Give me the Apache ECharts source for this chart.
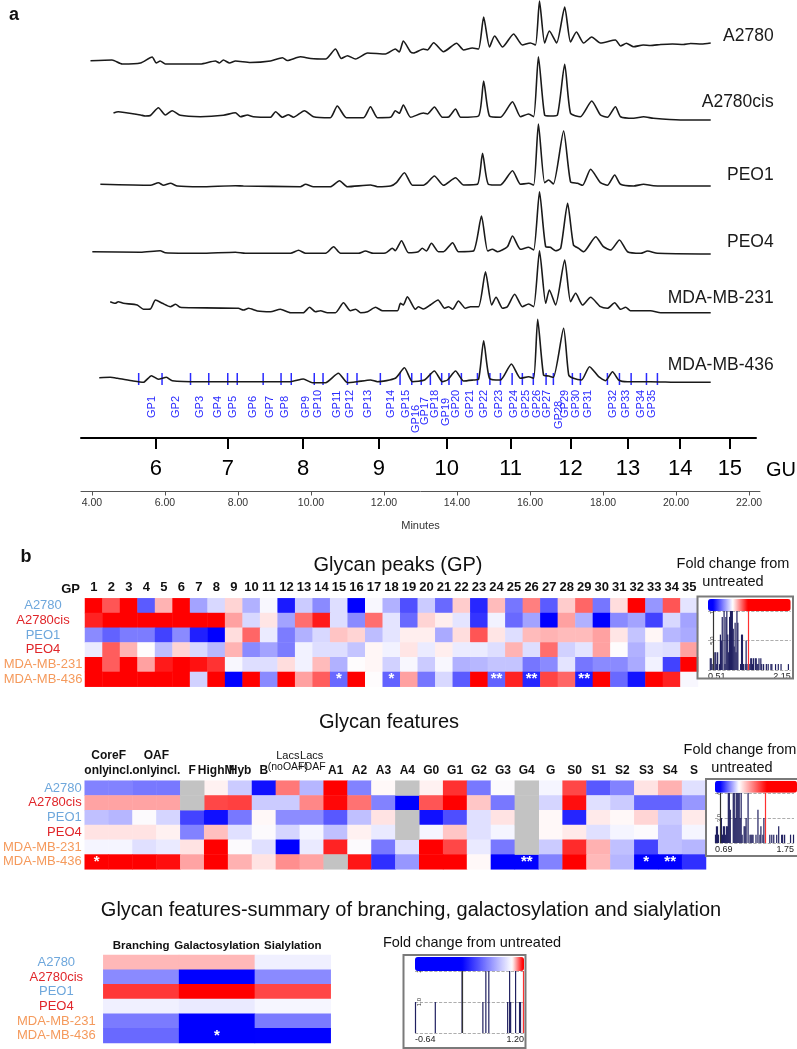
<!DOCTYPE html>
<html>
<head>
<meta charset="utf-8">
<script src="https://cdn.jsdelivr.net/npm/echarts/dist/echarts.min.js"></script>
<style>
  html, body { margin: 0; padding: 0; background: #fff; }
  #chart { width: 797px; height: 1049px; }
</style>
</head>
<body>
<div id="chart"></div>
<script>
// ---------- data ----------
const cellLines = ['A2780', 'A2780cis', 'PEO1', 'PEO4', 'MDA-MB-231', 'MDA-MB-436'];

// chromatograms: [retention time (min), signal]
const trace_A2780 = [[3.96,4.3],[4.55,5],[4.83,1],[5.33,2],[5.65,8],[5.76,2],[5.87,4],[6.01,1],[6.97,1],[7.38,4],[7.49,2],[7.60,5],[7.77,2],[7.93,4],[8.34,2.5],[8.89,4],[9.22,7.3],[9.35,4.5],[9.71,8.3],[9.99,6.5],[10.40,6],[10.67,16],[10.83,6.5],[11.00,9.3],[11.22,6],[11.55,12],[12.04,11],[12.31,16],[12.42,13],[12.53,24],[12.73,13],[12.81,12],[13.08,16],[13.19,15],[13.36,22.3],[13.63,13.3],[13.99,21.7],[14.18,15],[14.42,17],[14.59,16],[14.73,48],[14.89,18],[15.03,29],[15.25,18],[15.55,31],[15.79,20],[16.01,22],[16.15,20],[16.26,64],[16.40,22],[16.53,34],[16.73,22],[16.95,58],[17.11,23],[17.27,33],[17.47,22],[17.69,28],[17.93,22],[18.34,25],[18.48,19],[18.64,21.7],[18.84,18.3],[19.1,20],[19.3,19.5],[19.58,20.5],[19.9,21],[20.2,20.5],[20.4,21.5],[20.7,21],[20.95,22]];
const trace_A2780cis = [[4.59,7],[4.72,8.3],[5.33,5],[5.46,4],[5.60,4.5],[5.82,12.3],[6.01,5],[6.20,9.3],[6.42,4.7],[6.97,3.3],[7.60,4.7],[7.93,7.3],[8.07,3.3],[8.26,5],[8.42,3.3],[8.89,2.7],[9.03,8.3],[9.22,2.7],[9.38,5.3],[9.52,2.7],[9.82,9.3],[10.07,3.3],[10.53,2.3],[10.72,14],[10.97,2.3],[11.44,2.3],[11.63,13.3],[11.82,2.3],[12.18,2.7],[12.31,9.3],[12.42,6.7],[12.53,15],[12.73,2.7],[13.08,7],[13.19,6],[13.38,13],[13.60,2.7],[13.77,3],[13.96,11],[14.10,2.7],[14.59,4],[14.73,39],[14.89,4],[15.19,2.7],[15.52,18.3],[15.74,3.3],[15.96,6],[16.10,3.3],[16.23,63.3],[16.40,5],[16.56,4],[16.75,5],[16.95,55.7],[17.11,6.7],[17.38,3.3],[17.69,19],[17.93,5],[18.12,2.7],[18.34,13.3],[18.48,3.3],[18.84,1.7],[19.11,3.3],[19.38,1.7],[20.12,0],[20.95,0]];
const trace_PEO1 = [[4.23,2.7],[5.60,1.7],[5.82,4.3],[5.96,1.7],[6.15,3.7],[6.34,1],[6.97,0.3],[7.93,1.3],[8.15,1],[9.71,0.3],[9.85,2.7],[10.07,0.3],[10.53,0.3],[10.78,6.3],[11.00,0.3],[11.63,2],[11.82,0.3],[12.18,1],[12.34,4.3],[12.56,14.3],[12.78,1.7],[13.08,1.7],[13.19,4.3],[13.38,11],[13.63,1.7],[13.96,9.3],[14.18,2],[14.56,2.7],[14.70,33.7],[14.86,2.7],[15.19,2],[15.52,16.3],[15.74,2.7],[15.96,3.7],[16.10,2],[16.23,63],[16.40,4.3],[16.51,7],[16.64,3],[16.92,56],[17.11,5.3],[17.30,3.7],[17.44,1.7],[17.66,17.7],[17.93,4.3],[18.12,1.7],[18.32,12],[18.48,2.7],[18.84,1],[19.11,2.7],[19.38,1.3],[20.12,1],[20.95,1]];
const trace_PEO4 = [[4.01,2.3],[5.33,1.7],[5.87,3.3],[6.01,1.3],[6.97,0.7],[7.93,1.7],[8.20,0.7],[9.44,0.7],[9.66,3.7],[9.85,0.7],[10.40,0.7],[10.62,7.3],[10.81,0.7],[11.30,0.7],[11.49,3],[11.71,0.7],[12.04,1],[12.23,5.7],[12.31,3.3],[12.48,13.3],[12.67,1.3],[12.94,2.3],[13.05,5.7],[13.16,3],[13.30,10.7],[13.49,2.3],[13.63,2.3],[13.88,11.3],[14.04,2.3],[14.45,3],[14.67,38],[14.84,3],[14.97,4.7],[15.11,2.3],[15.38,7.3],[15.52,18],[15.74,4.7],[15.96,6.7],[16.10,4],[16.26,62.3],[16.43,7.3],[16.56,6.7],[16.70,3.3],[16.84,5.7],[17.03,50.7],[17.19,9],[17.33,5.7],[17.47,2.3],[17.80,17.3],[18.01,7.3],[18.21,4],[18.45,14],[18.67,2.3],[19.03,0.7],[19.22,3],[19.49,0.7],[20.95,0]];
const trace_MDA231 = [[4.50,11.3],[4.64,9.7],[4.72,11.3],[4.86,9.7],[5.24,8],[5.41,3.7],[5.60,4],[5.74,13],[5.93,9.7],[6.15,6.3],[6.29,8.7],[6.42,5.7],[6.70,5.3],[8.01,4.7],[8.15,3],[8.29,4.7],[8.53,2],[8.89,1.3],[9.16,3.7],[9.44,0.3],[9.79,0.3],[9.96,5.7],[10.12,1.3],[10.26,2.3],[10.45,0.3],[10.67,0.3],[10.89,10.3],[11.08,2.3],[11.22,3.7],[11.36,0.3],[11.55,1.3],[11.77,5.7],[11.96,2.3],[12.37,2.3],[12.45,9.7],[12.53,8],[12.64,16.3],[12.86,3.7],[12.94,6.3],[13.08,4],[13.27,8],[13.48,13],[13.66,4.7],[13.77,6.3],[13.88,3.7],[14.04,12],[14.23,4.7],[14.37,6.3],[14.59,6.3],[14.78,41.3],[14.95,8],[15.07,15.7],[15.25,4.7],[15.38,6.3],[15.58,18.7],[15.79,6.3],[15.96,9],[16.10,6.3],[16.26,62.3],[16.43,9.7],[16.53,23],[16.70,8],[16.95,53],[17.11,11.3],[17.25,19.7],[17.44,8],[17.66,15.7],[17.93,6.3],[18.12,4.7],[18.32,10.3],[18.48,3.7],[18.62,5.7],[18.75,2.3],[19.03,2.3],[19.30,2.3],[19.58,0.3],[20.95,0.3]];
const trace_MDA436 = [[4.20,5.3],[4.50,5.7],[4.70,4.7],[5.13,2],[5.41,0.7],[5.63,7.3],[5.82,3.7],[6.04,5.7],[6.20,2.3],[6.97,1.3],[9.44,1.3],[9.79,4],[10.04,0.3],[10.40,0.3],[10.75,9.7],[11.00,0.3],[11.27,1.3],[11.63,3],[11.82,1.3],[12.31,4.7],[12.56,15.3],[12.78,1.3],[13.11,3],[13.38,12],[13.60,1.3],[13.74,3],[13.96,12],[14.18,2],[14.45,3],[14.59,3.7],[14.73,42.3],[14.89,4.7],[15.19,3],[15.49,19],[15.74,4.7],[15.96,6.3],[16.10,4.7],[16.21,63.7],[16.37,8],[16.51,7],[16.64,5.7],[16.92,54.7],[17.06,8],[17.19,4.7],[17.41,3],[17.63,16.3],[17.88,6.3],[18.07,2.3],[18.26,11.3],[18.43,3],[18.67,1.3],[19.30,1.3],[20.12,0.7],[20.95,0.7]];
const traces = [trace_A2780, trace_A2780cis, trace_PEO1, trace_PEO4, trace_MDA231, trace_MDA436];

// GU scale (glucose units) and where each GU sits on the minutes scale
const guTicks = [6, 7, 8, 9, 10, 11, 12, 13, 14, 15];
const guAtMinute = [5.76, 7.75, 9.82, 11.91, 13.78, 15.54, 17.19, 18.77, 20.21, 21.58];
const minuteTicks = [4, 6, 8, 10, 12, 14, 16, 18, 20, 22];

// glycan peak integration boundaries and peak label positions (minutes)
const gpBounds = [5.28,5.92,6.70,7.20,7.72,7.98,8.69,9.18,9.46,10.09,10.33,11.00,11.26,11.90,12.44,12.76,13.02,13.27,13.58,13.78,14.12,14.56,14.90,15.19,15.51,15.79,16.09,16.44,16.64,17.16,17.38,18.12,18.45,18.77,19.19,19.49];
const gpCentre = [5.65,6.29,6.97,7.46,7.85,8.42,8.89,9.30,9.85,10.20,10.72,11.08,11.55,12.18,12.59,12.88,13.11,13.41,13.70,13.98,14.35,14.73,15.15,15.55,15.90,16.18,16.46,16.78,16.97,17.26,17.59,18.27,18.62,19.03,19.35];

// fold change from untreated, glycan peaks GP1..GP35 (rows = cellLines)
const gpFold = [
  [1.52,1.20,1.45,0.75,1.09,1.38,0.86,0.94,1.05,0.88,0.99,0.65,0.92,0.82,0.95,0.58,0.99,0.88,0.73,0.92,0.77,1.06,0.67,1.08,0.79,1.15,0.75,1.06,1.18,0.79,1.04,1.41,0.84,1.20,0.96],
  [1.26,1.62,1.55,1.48,1.70,1.58,1.66,1.50,1.11,0.94,1.03,0.86,1.17,1.27,0.95,0.82,1.17,0.96,0.77,1.05,1.02,0.96,0.69,0.98,0.77,0.86,0.57,1.11,0.88,0.55,0.82,0.86,0.71,0.94,0.86],
  [0.82,0.76,0.80,0.80,0.71,0.82,0.66,0.56,1.04,1.18,0.97,0.80,0.88,0.94,1.07,1.05,0.90,0.96,1.02,1.02,0.87,1.04,1.20,1.03,0.95,1.08,1.09,1.08,1.08,1.11,1.03,0.91,1.01,0.89,0.87],
  [0.97,1.19,1.09,1.00,0.90,1.05,0.94,0.89,1.09,0.82,0.86,0.80,0.98,0.95,0.95,0.91,1.01,0.98,1.03,0.97,1.02,0.97,0.97,0.95,1.09,0.95,1.17,0.93,0.96,1.11,1.00,0.88,0.96,0.95,1.11],
  [1.44,1.19,1.36,1.11,1.27,1.35,1.28,1.24,0.99,0.95,0.95,1.04,0.98,1.08,0.88,1.00,1.01,0.93,0.99,0.92,0.99,0.88,0.89,0.91,0.91,0.79,0.82,0.96,0.79,0.82,0.82,0.87,0.98,0.71,1.47],
  [1.95,2.10,1.85,1.78,1.90,1.75,0.93,1.46,0.60,1.52,0.82,1.56,1.11,1.19,0.77,1.40,1.00,0.76,1.11,0.79,0.94,0.75,1.42,0.76,1.26,0.67,1.22,1.18,0.65,1.38,0.77,0.64,1.33,1.26,0.99]
];
const gpSig = [[5, 14, '*'], [5, 17, '*'], [5, 23, '**'], [5, 25, '**'], [5, 28, '**']]; // [row, column, mark]

// glycan features (null = not detected, grey)
const featureNames = ['only', 'incl.', 'only', 'incl.', 'F', 'HighM', 'Hyb', 'B', '(noOAF)', '+OAF', 'A1', 'A2', 'A3', 'A4', 'G0', 'G1', 'G2', 'G3', 'G4', 'G', 'S0', 'S1', 'S2', 'S3', 'S4', 'S'];
const featureGroups = [[1, 'CoreF'], [3, 'OAF'], [8.5, 'Lacs'], [9.5, 'Lacs']]; // [column position, header]
const featureFold = [
  [0.88,0.88,0.87,0.87,null,1.02,0.95,0.77,1.19,0.93,1.45,0.88,1.01,null,1.02,1.29,0.87,1.00,null,0.99,1.26,0.84,0.88,1.04,1.11,0.97],
  [1.13,1.13,1.13,1.13,null,1.26,1.27,0.95,0.95,1.17,1.35,1.20,0.88,0.72,1.24,1.42,1.08,0.87,null,0.96,1.34,0.97,0.95,0.85,0.85,0.90],
  [0.94,0.93,1.00,0.96,0.82,0.77,0.87,1.01,0.89,0.89,0.84,0.94,1.04,null,0.77,0.83,0.97,1.04,null,1.01,0.79,1.03,1.01,1.06,0.95,1.03],
  [1.04,1.04,1.04,1.02,0.88,1.09,0.97,1.00,0.96,0.99,0.94,1.02,0.98,null,0.99,1.08,0.97,0.99,null,1.01,1.03,0.97,0.99,1.00,0.94,0.99],
  [0.99,0.99,0.97,0.98,1.04,1.48,1.00,0.97,0.71,0.98,1.31,1.00,0.87,0.97,1.52,1.26,0.98,0.87,null,0.95,1.30,1.11,0.94,0.82,0.94,0.93],
  [1.62,1.58,1.55,1.34,1.13,1.60,1.11,1.04,1.16,1.13,null,1.33,0.80,0.90,1.70,1.75,1.01,0.73,0.70,0.88,1.55,1.10,0.93,0.71,0.72,0.80]
];
const featureSig = [[5, 0, '*'], [5, 18, '**'], [5, 23, '*'], [5, 24, '**']];

// summary of branching, galactosylation and sialylation
const summaryNames = ['Branching', 'Galactosylation', 'Sialylation'];
const summaryFold = [
  [1.05, 1.05, 0.95],
  [0.61, 0.15, 0.61],
  [1.14, 1.20, 1.13],
  [0.95, 0.93, 0.97],
  [0.56, -0.30, 0.56],
  [0.50, -0.64, 0.15]
];
const summarySig = [[5, 1, '*']];

// ---------- styling helpers ----------
const FONT = 'Liberation Sans, Arial, sans-serif';
const GP_BLUE = '#2a2aff';
const rowColors = ['#6ea7dc', '#e0262a', '#6ea7dc', '#e0262a', '#f59a5c', '#f59a5c'];
const X_MIN = 3.7, X_MAX = 22.3;
const TRACE_BOTTOM = [65, 120, 187, 254, 313, 383];
const LABEL_DY = [-7, -18, -11, -12, -15, -17];
const GP_DROP = { 16: 15, 17: 7, 19: 8, 28: 11 };

function rampColors(min, max, blueAt, whiteAt, redAt) {
  const out = [];
  for (let i = 0; i <= 80; i++) {
    const v = min + (max - min) * i / 80;
    let r, g, b;
    if (v <= blueAt) { r = 0; g = 0; b = 255; }
    else if (v <= whiteAt) { const t = (v - blueAt) / (whiteAt - blueAt); r = g = Math.round(255 * t); b = 255; }
    else if (v <= redAt) { const t = (v - whiteAt) / (redAt - whiteAt); r = 255; g = b = Math.round(255 * (1 - t)); }
    else { r = 255; g = 0; b = 0; }
    out.push('rgb(' + r + ',' + g + ',' + b + ')');
  }
  return out;
}

function cells(rows) {
  const out = [];
  rows.forEach((row, r) => row.forEach((v, c) => { if (v !== null) out.push([c, r, v]); }));
  return out;
}
function missingCells(rows) {
  const out = [];
  rows.forEach((row, r) => row.forEach((v, c) => { if (v === null) out.push([c, r, 0]); }));
  return out;
}
function sigLookup(list) {
  const m = {};
  list.forEach(([r, c, t]) => { m[c + ',' + r] = t; });
  return m;
}
function histogram(rows, min, max, bins) {
  const w = (max - min) / bins;
  const counts = new Array(bins).fill(0);
  rows.forEach(row => row.forEach(v => {
    if (v === null) return;
    const i = Math.max(0, Math.min(bins - 1, Math.floor((v - min) / w)));
    counts[i]++;
  }));
  return counts.map((n, i) => [min + (i + 0.5) * w, n]).filter(d => d[1] > 0);
}

const chart = echarts.init(document.getElementById('chart'), null, { renderer: 'canvas' });

const grid = [], xAxis = [], yAxis = [], series = [];
// push helpers return the index of what was added
const addGrid = g => grid.push(g) - 1;
const addX = a => xAxis.push(a) - 1;
const addY = a => yAxis.push(a) - 1;

// ---- panel a: chromatograms ----
let bottomX = 0, bottomY = 0;
traces.forEach((data, i) => {
  const gi = addGrid({ left: 81, width: 679, top: TRACE_BOTTOM[i] - 60, height: 60 });
  const xi = addX({ gridIndex: gi, type: 'value', min: X_MIN, max: X_MAX, show: false });
  const yi = addY({ gridIndex: gi, type: 'value', min: 0, max: 60, show: false });
  bottomX = xi; bottomY = yi;
  series.push({
    type: 'line', name: cellLines[i], xAxisIndex: xi, yAxisIndex: yi, data,
    showSymbol: false, smooth: 0.2, clip: false, silent: true,
    lineStyle: { color: '#1a1a1a', width: 1.6 },
    endLabel: {
      show: true, formatter: cellLines[i], align: 'right', verticalAlign: 'middle',
      offset: [55, LABEL_DY[i]], fontSize: 17.5, color: '#1a1a1a', fontFamily: FONT
    }
  });
});

// GP boundaries (blue ticks across the bottom trace)
series.push({
  type: 'custom', xAxisIndex: bottomX, yAxisIndex: bottomY, silent: true,
  data: gpBounds.map(v => [v, 0]),
  renderItem: (params, api) => {
    const p = api.coord([api.value(0), 0]);
    return { type: 'line', shape: { x1: p[0], y1: p[1] + 2, x2: p[0], y2: p[1] - 10 },
      style: { stroke: GP_BLUE, lineWidth: 1.5 } };
  }
});
// GP labels
series.push({
  type: 'custom', xAxisIndex: bottomX, yAxisIndex: bottomY, silent: true,
  data: gpCentre.map(v => [v, 0]),
  renderItem: (params, api) => {
    const n = params.dataIndex + 1;
    const p = api.coord([api.value(0), 0]);
    return { type: 'text', x: p[0], y: p[1] + 35 + (GP_DROP[n] || 0), rotation: Math.PI / 2,
      style: { text: 'GP' + n, fill: GP_BLUE, font: '11px ' + FONT,
        align: 'left', verticalAlign: 'middle' } };
  }
});

// GU axis and minutes axis
{
  const gi = addGrid({ left: 81, width: 679, top: 437, height: 1 });
  addX({
    gridIndex: gi, type: 'value', min: X_MIN, max: X_MAX, position: 'bottom',
    axisLine: { lineStyle: { color: '#000', width: 2 } },
    axisTick: { customValues: guAtMinute, length: 11, lineStyle: { color: '#000', width: 2 } },
    axisLabel: { customValues: guAtMinute, formatter: v => String(guTicks[guAtMinute.indexOf(v)]),
      fontSize: 22, margin: 20, color: '#000', fontFamily: FONT },
    splitLine: { show: false },
    name: 'GU', nameLocation: 'end', nameGap: 10,
    nameTextStyle: { fontSize: 20, color: '#000', fontFamily: FONT, verticalAlign: 'top', padding: [22, 0, 0, 0] }
  });
  addY({ gridIndex: gi, type: 'value', min: 0, max: 1, show: false });
}
{
  const gi = addGrid({ left: 81, width: 679, top: 490.5, height: 1 });
  addX({
    gridIndex: gi, type: 'value', min: X_MIN, max: X_MAX, position: 'bottom',
    axisLine: { lineStyle: { color: '#555', width: 1 } },
    axisTick: { customValues: minuteTicks, length: 4, lineStyle: { color: '#555' } },
    axisLabel: { customValues: minuteTicks, formatter: v => v.toFixed(2),
      fontSize: 10.5, margin: 6, color: '#333', fontFamily: FONT },
    splitLine: { show: false },
    name: 'Minutes', nameLocation: 'middle', nameGap: 29,
    nameTextStyle: { fontSize: 11, color: '#333', fontFamily: FONT }
  });
  addY({ gridIndex: gi, type: 'value', min: 0, max: 1, show: false });
}

// ---- panel b: heatmaps ----
const hidden = { axisLine: { show: false }, axisTick: { show: false }, splitLine: { show: false } };
const sigLabel = (lookup) => ({
  show: true, color: '#fff', fontSize: 15, fontWeight: 'bold', fontFamily: FONT,
  formatter: p => lookup[p.value[0] + ',' + p.value[1]] || ''
});

// glycan peaks
let gpSeriesIndex, featSeriesIndex, sumSeriesIndex;
{
  const gi = addGrid({ left: 85, top: 598.3, width: 613, height: 88.4 });
  const xi = addX(Object.assign({
    gridIndex: gi, type: 'category', position: 'top', data: gpFold[0].map((_, i) => String(i + 1)),
    axisLabel: { interval: 0, fontSize: 13, fontWeight: 'bold', color: '#111', margin: 4, fontFamily: FONT },
    name: 'GP', nameLocation: 'start', nameGap: 5,
    nameTextStyle: { fontSize: 13, fontWeight: 'bold', color: '#111', fontFamily: FONT, verticalAlign: 'bottom', padding: [0, 0, 2, 0] }
  }, hidden));
  const yi = addY(Object.assign({
    gridIndex: gi, type: 'category', inverse: true, data: cellLines,
    axisLabel: { interval: 0, fontSize: 13, align: 'center', margin: 42, color: (v, i) => rowColors[i], fontFamily: FONT }
  }, hidden));
  gpSeriesIndex = series.push({
    type: 'heatmap', xAxisIndex: xi, yAxisIndex: yi, data: cells(gpFold),
    label: sigLabel(sigLookup(gpSig)), emphasis: { disabled: true }, silent: true
  }) - 1;
}

// glycan features
{
  const gi = addGrid({ left: 71, top: 780.7, width: 635, height: 88.6 });
  const xi = addX(Object.assign({
    gridIndex: gi, type: 'category', position: 'top', data: featureNames,
    axisLabel: {
      interval: 0, fontSize: 12, fontWeight: 'bold', color: '#111', margin: 4, fontFamily: FONT,
      formatter: v => (v === '(noOAF)' || v === '+OAF') ? '{s|' + v + '}' : v,
      rich: { s: { fontSize: 10.5, fontWeight: 'normal', color: '#111', fontFamily: FONT, padding: [0, 0, 4, 0] } }
    }
  }, hidden));
  addX(Object.assign({
    gridIndex: gi, type: 'value', position: 'top', offset: 15, min: 0, max: featureNames.length,
    axisLabel: {
      customValues: featureGroups.map(g => g[0]),
      formatter: v => { const t = featureGroups.find(g => g[0] === v)[1]; return t === 'Lacs' ? '{s|Lacs}' : t; },
      fontSize: 12, fontWeight: 'bold', color: '#111', margin: 4, fontFamily: FONT,
      rich: { s: { fontSize: 11, fontWeight: 'normal', color: '#111', fontFamily: FONT } }
    }
  }, hidden));
  const yi = addY(Object.assign({
    gridIndex: gi, type: 'category', inverse: true, data: cellLines,
    axisLabel: { interval: 0, fontSize: 13, margin: 3, color: (v, i) => rowColors[i], fontFamily: FONT }
  }, hidden));
  featSeriesIndex = series.push({
    type: 'heatmap', xAxisIndex: xi, yAxisIndex: yi, data: cells(featureFold),
    label: sigLabel(sigLookup(featureSig)), emphasis: { disabled: true }, silent: true
  }) - 1;
  series.push({
    type: 'heatmap', xAxisIndex: xi, yAxisIndex: yi, data: missingCells(featureFold),
    itemStyle: { color: '#c3c3c3' }, emphasis: { disabled: true }, silent: true
  });
}

// summary
{
  const gi = addGrid({ left: 103.3, top: 955, width: 227.4, height: 88 });
  const xi = addX(Object.assign({
    gridIndex: gi, type: 'category', position: 'top', data: summaryNames,
    axisLabel: { interval: 0, fontSize: 11.5, fontWeight: 'bold', color: '#111', margin: 3, fontFamily: FONT }
  }, hidden));
  const yi = addY(Object.assign({
    gridIndex: gi, type: 'category', inverse: true, data: cellLines,
    axisLabel: { interval: 0, fontSize: 13, align: 'center', margin: 47, color: (v, i) => rowColors[i], fontFamily: FONT }
  }, hidden));
  sumSeriesIndex = series.push({
    type: 'heatmap', xAxisIndex: xi, yAxisIndex: yi, data: cells(summaryFold),
    label: sigLabel(sigLookup(summarySig)), emphasis: { disabled: true }, silent: true
  }) - 1;
}

// ---- histogram insets ----
const insets = [
  { rows: gpFold, min: 0.51, max: 2.15, bins: 90, yMax: 10, lo: 0.61, hi: 1.30,
    box: { left: 708, top: 611, width: 82.7, height: 59 } },
  { rows: featureFold, min: 0.69, max: 1.75, bins: 80, yMax: 6, lo: 0.755, hi: 1.36,
    box: { left: 715, top: 793, width: 82, height: 50 } },
  { rows: summaryFold, min: -0.64, max: 1.20, bins: 110, yMax: 2, lo: 0.15, hi: 1.18,
    box: { left: 415, top: 971, width: 109, height: 62 } }
];
insets.forEach(ins => {
  const gi = addGrid(ins.box);
  const xi = addX({
    gridIndex: gi, type: 'value', min: ins.min, max: ins.max,
    axisLine: { show: false }, axisTick: { show: false }, splitLine: { show: false },
    axisLabel: { customValues: [ins.min, ins.max], formatter: v => v.toFixed(2), fontSize: 9,
      color: '#222', margin: 2, alignMinLabel: 'left', alignMaxLabel: 'right', fontFamily: FONT }
  });
  const yi = addY({
    gridIndex: gi, type: 'value', min: 0, max: ins.yMax, interval: ins.yMax / 2,
    axisLine: { show: false }, axisTick: { show: false },
    splitLine: { show: true, lineStyle: { color: '#999', type: 'dashed', width: 0.8 } },
    axisLabel: { inside: true, rotate: 90, fontSize: 6, color: '#333', margin: 1,
      formatter: v => v === 0 ? '' : (v === ins.yMax ? String(v) : v.toFixed(1)) }
  });
  series.push({
    type: 'bar', xAxisIndex: xi, yAxisIndex: yi, data: histogram(ins.rows, ins.min, ins.max, ins.bins),
    barWidth: 1.2, itemStyle: { color: '#202060' }, silent: true,
    markLine: {
      silent: true, symbol: 'none', label: { show: false },
      data: [
        { xAxis: ins.lo, lineStyle: { color: '#333', width: 1.2, type: 'solid' } },
        { xAxis: ins.hi, lineStyle: { color: '#ff3030', width: 1.2, type: 'solid' } }
      ]
    }
  });
});

const visualMap = [
  { seriesIndex: gpSeriesIndex, min: 0.51, max: 2.15, left: 708, top: 599, itemHeight: 82.7, itemWidth: 12,
    colors: rampColors(0.51, 2.15, 0.61, 1.0, 1.30) },
  { seriesIndex: featSeriesIndex, min: 0.69, max: 1.75, left: 715, top: 780.7, itemHeight: 82, itemWidth: 12,
    colors: rampColors(0.69, 1.75, 0.755, 1.0, 1.36) },
  { seriesIndex: sumSeriesIndex, min: -0.64, max: 1.20, left: 415, top: 957, itemHeight: 109, itemWidth: 14,
    colors: rampColors(-0.64, 1.20, 0.15, 1.0, 1.18) }
].map(v => ({
  type: 'continuous', seriesIndex: v.seriesIndex, min: v.min, max: v.max, orient: 'horizontal',
  left: v.left, top: v.top, itemHeight: v.itemHeight, itemWidth: v.itemWidth, padding: 0,
  calculable: false, hoverLink: false, inRange: { color: v.colors }
}));

// ---- text and frames ----
function label(text, x, y, size, bold) {
  return { type: 'text', x, y, silent: true,
    style: { text, fill: '#111', font: (bold ? 'bold ' : '') + size + 'px ' + FONT,
      align: 'center', verticalAlign: 'middle' } };
}
function frame(x, y, w, h) {
  return { type: 'rect', silent: true, shape: { x, y, width: w, height: h },
    style: { fill: 'none', stroke: '#7a7a7a', lineWidth: 2 }, z: 10 };
}
const graphic = [
  label('a', 14, 15, 18, true),
  label('b', 26, 557, 18, true),
  label('Glycan peaks (GP)', 398, 565, 20),
  label('Glycan features', 389, 722, 20),
  label('Glycan features-summary of branching, galactosylation and sialylation', 411, 910, 20),
  label('Fold change from', 733, 564, 14.5),
  label('untreated', 733, 582, 14.5),
  label('Fold change from', 740, 750, 14.5),
  label('untreated', 742, 768, 14.5),
  label('Fold change from untreated', 472, 943, 14.5),
  frame(697.5, 596.5, 95.5, 82),
  frame(706, 779, 100, 77),
  frame(403.5, 955, 122, 93)
];

chart.setOption({
  animation: false,
  backgroundColor: '#fff',
  textStyle: { fontFamily: FONT },
  grid, xAxis, yAxis, series, visualMap, graphic
});
</script>
</body>
</html>
